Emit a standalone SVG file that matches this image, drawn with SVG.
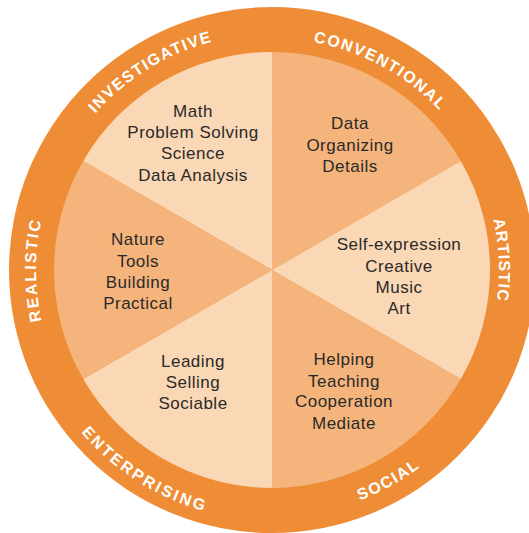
<svg xmlns="http://www.w3.org/2000/svg" width="529" height="533" viewBox="0 0 529 533">
<style>
.ring{fill:#EE8D36}
.light{fill:#FAD7B5}
.mid{fill:#F4B47B}
.t{font-family:"Liberation Sans",Arial,sans-serif;font-size:17px;fill:#2a2a2a;text-anchor:middle;letter-spacing:0.5px}
.lab{font-family:"Liberation Sans",Arial,sans-serif;font-size:16px;font-weight:bold;fill:#ffffff;text-anchor:middle}
</style>
<defs>
<path id="pInv" d="M36.08,276.18 A236,236 0 0 1 384.61,62.60"/>
<path id="pCon" d="M151.04,72.61 A231.5,231.5 0 0 1 503.42,263.94"/>
<path id="pArt" d="M376.82,68.65 A227,227 0 0 1 393.97,461.45"/>
<path id="pRea" d="M154,474.38 A236,236 0 0 1 154,65.62"/>
<path id="pSoc" d="M145.04,481.29 A246.5,246.5 0 0 0 518.46,274.30"/>
<path id="pEnt" d="M21.74,259.07 A250.5,250.5 0 0 0 387.67,492.20"/>
</defs>
<circle class="ring" cx="272" cy="270" r="263"/>
<g id="investigative">
<path class="light" d="M272,270 L83.21,161 A218,218 0 0 1 272,52 Z"/>
<text class="lab" style="letter-spacing:1.5px"><textPath href="#pInv" startOffset="50%">INVESTIGATIVE</textPath></text>
<text class="t" x="193" y="116.5">Math</text>
<text class="t" x="193" y="138">Problem Solving</text>
<text class="t" x="193" y="159">Science</text>
<text class="t" x="193" y="180.5">Data Analysis</text>
</g>
<g id="conventional">
<path class="mid" d="M272,270 L272,52 A218,218 0 0 1 460.79,161 Z"/>
<text class="lab" style="letter-spacing:1.6px"><textPath href="#pCon" startOffset="50%">CONVENTIONAL</textPath></text>
<text class="t" x="350" y="129">Data</text>
<text class="t" x="350" y="150.5">Organizing</text>
<text class="t" x="350" y="172">Details</text>
</g>
<g id="artistic">
<path class="light" d="M272,270 L460.79,161 A218,218 0 0 1 460.79,379 Z"/>
<text class="lab" style="letter-spacing:1.1px"><textPath href="#pArt" startOffset="50%">ARTISTIC</textPath></text>
<text class="t" x="399" y="250">Self-expression</text>
<text class="t" x="399" y="271.5">Creative</text>
<text class="t" x="399" y="293">Music</text>
<text class="t" x="399" y="314">Art</text>
</g>
<g id="social">
<path class="mid" d="M272,270 L460.79,379 A218,218 0 0 1 272,488 Z"/>
<text class="lab" style="letter-spacing:1.6px"><textPath href="#pSoc" startOffset="50%">SOCIAL</textPath></text>
<text class="t" x="344" y="365">Helping</text>
<text class="t" x="344" y="386.5">Teaching</text>
<text class="t" x="344" y="407">Cooperation</text>
<text class="t" x="344" y="428.5">Mediate</text>
</g>
<g id="enterprising">
<path class="light" d="M272,270 L272,488 A218,218 0 0 1 83.21,379 Z"/>
<text class="lab" style="letter-spacing:2.5px"><textPath href="#pEnt" startOffset="50%">ENTERPRISING</textPath></text>
<text class="t" x="193" y="367">Leading</text>
<text class="t" x="193" y="388">Selling</text>
<text class="t" x="193" y="409">Sociable</text>
</g>
<g id="realistic">
<path class="mid" d="M272,270 L83.21,379 A218,218 0 0 1 83.21,161 Z"/>
<text class="lab" style="letter-spacing:2px"><textPath href="#pRea" startOffset="50%">REALISTIC</textPath></text>
<text class="t" x="138" y="245">Nature</text>
<text class="t" x="138" y="266.5">Tools</text>
<text class="t" x="138" y="288">Building</text>
<text class="t" x="138" y="309">Practical</text>
</g>
<g id="connectors"></g>
</svg>
